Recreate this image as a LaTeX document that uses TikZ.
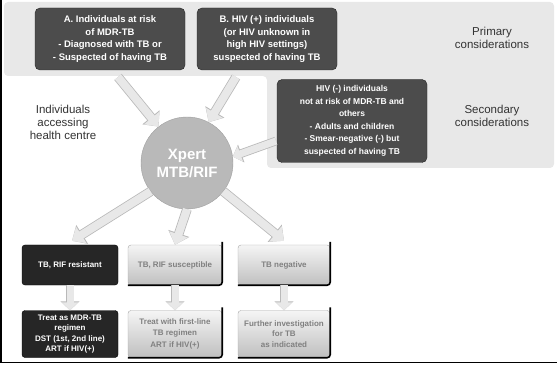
\documentclass[tikz,border=0pt]{standalone}
\usepackage{fontspec}
\setmainfont{Liberation Sans}
\usetikzlibrary{arrows.meta,calc}
\begin{document}
\begin{tikzpicture}[x=1pt,y=-1pt,
  darkbox/.style={draw=black!85, fill=black!70, rounded corners=5pt, text=white,
    font=\bfseries\fontsize{9.5}{12.5}\selectfont, align=center, inner sep=1pt},
  lightbox/.style={rounded corners=3pt, top color=gray!8, bottom color=gray!50,
    draw=gray!70, text=black!50, font=\bfseries\fontsize{8}{10.5}\selectfont, align=center, inner sep=1pt},
  blackbox/.style={rounded corners=3pt, fill=black!85, draw=black, text=white,
    font=\bfseries\fontsize{8}{10.5}\selectfont, align=center, inner sep=1pt},
  plain/.style={font=\fontsize{11.5}{13}\selectfont, align=center, text=black!80},
  barrow/.style={line width=8pt, draw=gray!18, -{Triangle[length=11pt,width=19pt]},
    preaction={draw=gray!55, line width=9.6pt, -{Triangle[length=12pt,width=21.5pt]}}},
  sarrow/.style={line width=7pt, draw=gray!18, -{Triangle[length=8pt,width=16pt]},
    preaction={draw=gray!55, line width=8.6pt, -{Triangle[length=9pt,width=18.5pt]}}},
  edge3d/.style={line width=1.6pt, draw=black, rounded corners=3pt}]
\useasboundingbox (0,0) rectangle (557,366);
% background bands
\fill[gray!18, rounded corners=4pt] (4,2) -- (554,2) -- (554,168) -- (267,168) -- (267,76) -- (4,76) -- cycle;
% frame lines
\draw[line width=2pt] (1,0) -- (1,362);
\draw[line width=0.8pt] (0,362) -- (557,362);

% top boxes
\node[darkbox, minimum width=150pt, minimum height=62pt] (A) at (110,39)
  {A. Individuals at risk\\ of MDR-TB\\ - Diagnosed with TB or\\ - Suspected of having TB};
\node[darkbox, minimum width=140pt, minimum height=62pt] (B) at (267,39)
  {B. HIV (+) individuals\\ (or HIV unknown in\\ high HIV settings)\\ suspected of having TB};
\node[darkbox, minimum width=150pt, minimum height=83pt, font=\bfseries\fontsize{8.5}{12.5}\selectfont] (S) at (352,121)
  {HIV (-) individuals\\ not at risk of MDR-TB and\\ others\\ - Adults and children\\ - Smear-negative (-) but\\ suspected of having TB};

\node[plain] (P) at (492,38) {Primary\\ considerations};
\node[plain] (SC) at (492,116) {Secondary\\ considerations};
\node[plain] (L) at (63,122) {Individuals\\ accessing\\ health centre};

% central circle
\node[circle, fill=gray!55, draw=gray!75, minimum size=92pt, text=white,
  font=\bfseries\fontsize{15}{18}\selectfont, align=center] (X) at (187,163) {Xpert\\ MTB/RIF};

% bottom boxes
\node[blackbox, minimum width=96pt, minimum height=40pt] (R1) at (70,265) {TB, RIF resistant};
\node[lightbox, minimum width=94pt, minimum height=40pt] (R2) at (175,265) {TB, RIF susceptible};
\node[lightbox, minimum width=92pt, minimum height=40pt] (R3) at (284,265) {TB negative};
\node[blackbox, minimum width=96pt, minimum height=47pt] (T1) at (70,334)
  {Treat as MDR-TB\\ regimen\\ DST (1st, 2nd line)\\ ART if HIV(+)};
\node[lightbox, minimum width=94pt, minimum height=47pt] (T2) at (175,334)
  {Treat with first-line\\ TB regimen\\[2pt] ART if HIV(+)};
\node[lightbox, minimum width=92pt, minimum height=47pt] (T3) at (284,334)
  {Further investigation\\ for TB\\ as indicated};
\foreach \b in {R2,R3,T2,T3} {
  \draw[edge3d] ($(\b.north east)+(0,-3)$) -- (\b.south east) -- (\b.south west);
}

% connectors
\coordinate (a1) at (118,77);
\coordinate (b1) at (236,77);
\coordinate (s1) at (276,141);
\draw[barrow] (a1) -- (X.128);
\draw[barrow] (b1) -- (X.62);
\draw[sarrow] (s1) -- (X.8);
\draw[barrow] (X.218) -- ($(R1.north)+(2,-4)$);
\draw[barrow] (X.270) -- (R2.north);
\draw[barrow] (X.322) -- ($(R3.north)+(0,-4)$);
\draw[sarrow] (R1.south) -- (T1.north);
\draw[sarrow] (R2.south) -- (T2.north);
\draw[sarrow] (R3.south) -- (T3.north);
\end{tikzpicture}
\end{document}
